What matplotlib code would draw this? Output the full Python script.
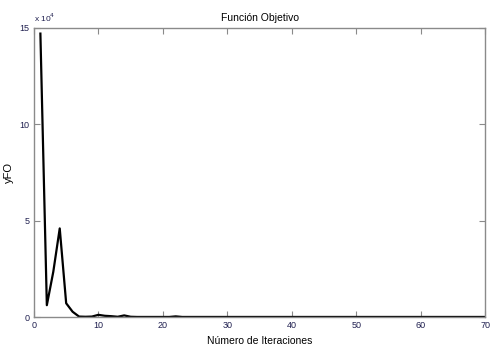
import numpy as np
import matplotlib
matplotlib.use('Agg')
import matplotlib.pyplot as plt

plt.rcParams['font.family'] = ['Liberation Sans Narrow', 'Liberation Sans', 'DejaVu Sans']

# objective value per iteration, in units of 1e4
iters = np.arange(1, 71)
yfo = [14.7, 0.62, 2.35, 4.6, 0.72, 0.28, 0.03, 0.02, 0.03, 0.12,
       0.07, 0.05, 0.02, 0.09, 0.02, 0.01, 0.01, 0.01, 0.01, 0.01,
       0.01, 0.04, 0.01, 0.01, 0.01, 0.01, 0.01, 0.01, 0.01, 0.01,
       0.01, 0.01, 0.01, 0.01, 0.01, 0.01, 0.01, 0.01, 0.01, 0.01,
       0.01, 0.01, 0.01, 0.01, 0.01, 0.01, 0.01, 0.01, 0.01, 0.01,
       0.01, 0.01, 0.01, 0.01, 0.01, 0.01, 0.01, 0.01, 0.01, 0.01,
       0.01, 0.01, 0.01, 0.01, 0.01, 0.01, 0.01, 0.01, 0.01, 0.01]
xticks = [0, 10, 20, 30, 40, 50, 60, 70]
yticks = [0, 5, 10, 15]

tick_col = '#202050'
frame_col = '#8a8a8a'

fig = plt.figure(figsize=(4.92, 3.52), dpi=100)
ax = fig.add_axes([0.069, 0.099, 0.917, 0.822])
ax.plot(iters, yfo, color='black', lw=1.6)

ax.set_xlim(0, 70)
ax.set_ylim(0, 15)
ax.set_xticks(xticks)
ax.set_yticks(yticks)
ax.tick_params(direction='in', length=4, width=0.8, top=True, right=True,
               labelsize=6.5, colors=frame_col, labelcolor=tick_col, pad=3)
for s in ax.spines.values():
    s.set_color(frame_col)
    s.set_linewidth(1)

ax.set_title('Función Objetivo', fontsize=7.5, pad=5)
ax.set_xlabel('Número de Iteraciones', fontsize=7.5, labelpad=4)
ax.set_ylabel('yFO', fontsize=8, labelpad=4)
ax.text(0.0, 1.012, r'x 10$^4$', transform=ax.transAxes, fontsize=6,
        color=tick_col, va='bottom', ha='left')

fig.savefig('out.png', dpi=100)
